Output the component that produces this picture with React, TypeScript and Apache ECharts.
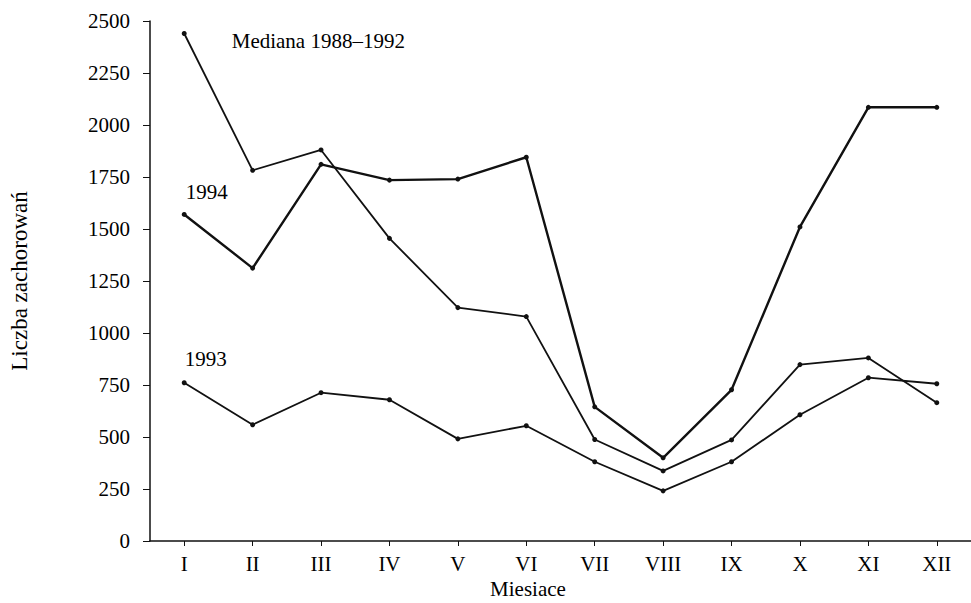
import React, { useEffect, useRef } from "react";
import * as echarts from "echarts";

const months = ["I", "II", "III", "IV", "V", "VI", "VII", "VIII", "IX", "X", "XI", "XII"];
const median8892 = [2440, 1782, 1880, 1455, 1122, 1079, 488, 337, 486, 848, 880, 665];
const y1994 = [1570, 1312, 1811, 1735, 1740, 1845, 645, 400, 727, 1510, 2085, 2085];
const y1993 = [761, 559, 713, 679, 491, 554, 381, 241, 381, 607, 785, 756];
const yTicks = { min: 0, max: 2500, interval: 250 };

const FONT = "'Liberation Serif', 'DejaVu Serif', serif";

function firstLabel(text: string, offset: number[]) {
  return {
    show: true,
    position: "right",
    formatter: text,
    offset,
    color: "#000",
    fontFamily: FONT,
    fontSize: 21,
  };
}

function withLabel(values: number[], text: string, offset: number[]) {
  return values.map((v, i) =>
    i === 0 ? { value: v, label: firstLabel(text, offset) } : v
  );
}

function lineSeries(name: string, data: any[], width: number) {
  return {
    name,
    type: "line",
    data,
    symbol: "circle",
    symbolSize: 5,
    itemStyle: { color: "#111" },
    lineStyle: { color: "#111", width },
    label: { show: false },
    emphasis: { disabled: true },
  };
}

export default function App() {
  const ref = useRef<HTMLDivElement>(null);
  useEffect(() => {
    if (!ref.current) return;
    const chart = echarts.init(ref.current, null, { renderer: "svg" });
    chart.setOption({
      animation: false,
      backgroundColor: "#fff",
      grid: { left: 141, right: 0, top: 21, bottom: 62, containLabel: false },
      xAxis: {
        type: "category",
        data: months,
        boundaryGap: true,
        axisLine: { show: true, lineStyle: { color: "#111", width: 1.5 } },
        axisTick: { show: true, alignWithLabel: true, length: 5, lineStyle: { color: "#111" } },
        axisLabel: { color: "#000", fontFamily: FONT, fontSize: 21, margin: 12 },
        splitLine: { show: false },
      },
      yAxis: {
        type: "value",
        min: yTicks.min,
        max: yTicks.max,
        interval: yTicks.interval,
        name: "Liczba zachorowań",
        nameLocation: "middle",
        nameGap: 119,
        nameTextStyle: { color: "#000", fontFamily: FONT, fontSize: 23 },
        axisLine: { show: true, lineStyle: { color: "#111", width: 1.5 } },
        axisTick: { show: true, length: 7, lineStyle: { color: "#111" } },
        axisLabel: {
          color: "#000",
          fontFamily: FONT,
          fontSize: 21,
          margin: 20,
          formatter: (v: number) => String(v),
        },
        splitLine: { show: false },
      },
      graphic: [
        {
          type: "text",
          x: 528,
          y: 589,
          style: {
            text: "Miesiace",
            fill: "#000",
            font: "21px 'Liberation Serif', serif",
            textAlign: "center",
            textVerticalAlign: "middle",
          },
        },
      ],
      series: [
        lineSeries("Mediana 1988–1992", withLabel(median8892, "Mediana 1988–1992", [40, 8]), 1.8),
        lineSeries("1994", withLabel(y1994, "1994", [-6, -22]), 2.4),
        lineSeries("1993", withLabel(y1993, "1993", [-7, -24]), 1.8),
      ],
    });
    return () => chart.dispose();
  }, []);
  return (
    <div
      ref={ref}
      style={{ position: "absolute", left: 0, top: 0, width: 971, height: 603, background: "#fff" }}
    />
  );
}
